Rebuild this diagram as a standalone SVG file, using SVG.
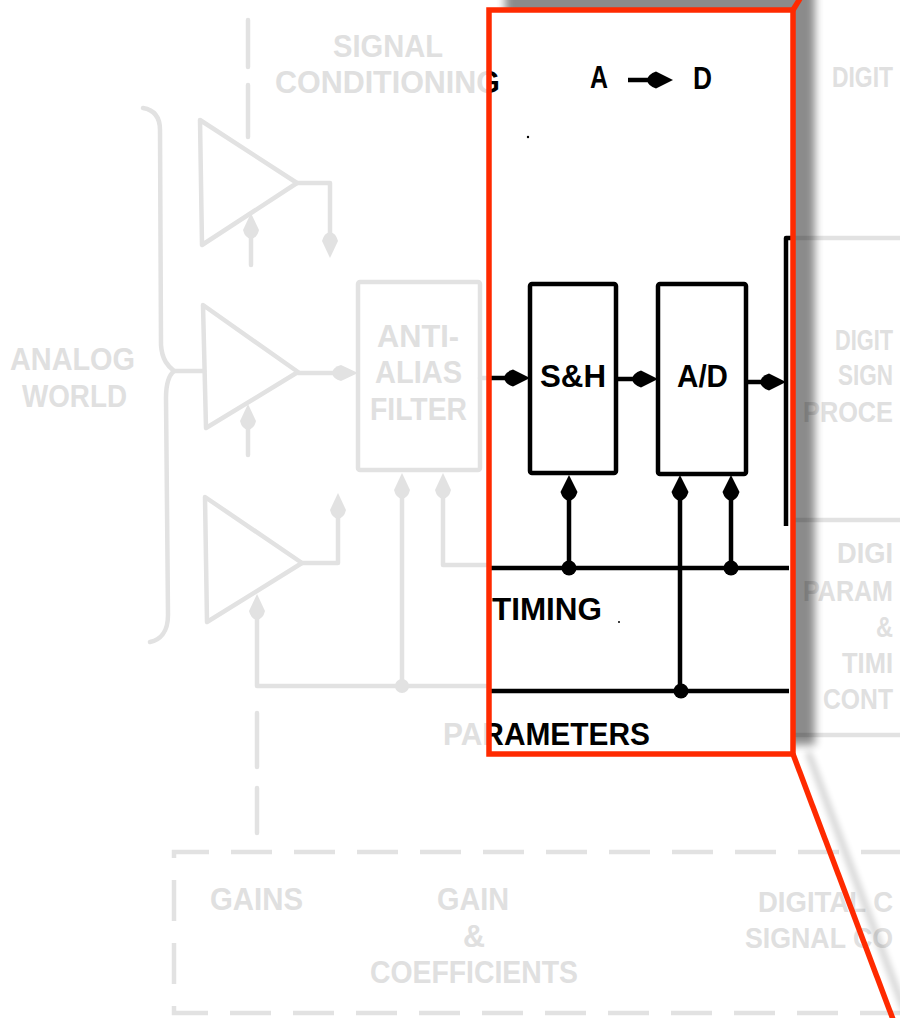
<svg xmlns="http://www.w3.org/2000/svg" width="900" height="1018" viewBox="0 0 900 1018">
<defs>
<style>
.g{fill:none;stroke:#e2e2e2;stroke-width:4.5;stroke-linecap:round;stroke-linejoin:round}
.gd{fill:none;stroke:#e2e2e2;stroke-width:4.5;stroke-dasharray:41 22}
.gt{fill:#e0e0e0;font-family:"Liberation Sans",Arial,sans-serif;font-weight:bold;font-size:31px}
.gs{font-size:29px}
.k{fill:none;stroke:#000;stroke-width:4.5;stroke-linejoin:round}
.kt{fill:#000;font-family:"Liberation Sans",Arial,sans-serif;font-weight:bold;font-size:31px}
.gdot{fill:#e2e2e2}
.kdot{fill:#000}
.mid{text-anchor:middle}
</style>
<marker id="ag" markerUnits="userSpaceOnUse" markerWidth="30" markerHeight="20" viewBox="-15 -10 30 20" refX="0" refY="0" orient="auto">
<path d="M13,0 L-4,-8 Q-12,-6 -13,0 Q-12,6 -4,8 Z" fill="#e2e2e2"/>
</marker>
<marker id="ak" markerUnits="userSpaceOnUse" markerWidth="30" markerHeight="20" viewBox="-15 -10 30 20" refX="0" refY="0" orient="auto">
<path d="M13,0 L-4,-8.5 Q-12,-6 -13,0 Q-12,6 -4,8.5 Z" fill="#000"/>
</marker>
<clipPath id="zoomclip"><rect x="491" y="12" width="300" height="740"/></clipPath>
<filter id="blur" x="-30%" y="-30%" width="160%" height="160%"><feGaussianBlur stdDeviation="4"/></filter>
<filter id="blur2" x="-30%" y="-30%" width="160%" height="160%"><feGaussianBlur stdDeviation="3"/></filter>
</defs>
<rect width="900" height="1018" fill="#fff"/>

<!-- faded background diagram -->
<g id="background-diagram">
  <g id="labels-gray">
    <text class="gt mid" x="388" y="57" textLength="110" lengthAdjust="spacingAndGlyphs">SIGNAL</text>
    <text class="gt" x="275" y="93" textLength="225" lengthAdjust="spacingAndGlyphs">CONDITIONING</text>
    <text class="gt" x="10" y="370" textLength="125" lengthAdjust="spacingAndGlyphs">ANALOG</text>
    <text class="gt" x="22" y="407" textLength="105" lengthAdjust="spacingAndGlyphs">WORLD</text>
    <text class="gt" x="443" y="745" textLength="207" lengthAdjust="spacingAndGlyphs">PARAMETERS</text>
  </g>
  <g id="brace">
    <path class="g" d="M143,108 C155,110 160,118 160,130 L161,345 C162,360 168,366 174,371 C168,376 166,385 166,398 L168,615 C168,632 160,640 150,642"/>
  </g>
  <g id="amp-top"><polygon class="g" points="200,120 297,183 202,245"/></g>
  <g id="amp-middle"><polygon class="g" points="203,305 298,372 206,428"/></g>
  <g id="amp-bottom"><polygon class="g" points="205,497 302,563 207,622"/></g>
  <g id="anti-alias-filter">
    <rect class="g" x="358" y="282" width="122" height="188" rx="2"/>
    <text class="gt" x="377" y="347" textLength="82" lengthAdjust="spacingAndGlyphs">ANTI-</text>
    <text class="gt" x="375" y="383" textLength="87" lengthAdjust="spacingAndGlyphs">ALIAS</text>
    <text class="gt" x="370" y="420" textLength="97" lengthAdjust="spacingAndGlyphs">FILTER</text>
  </g>
  <g id="right-column">
    <path class="g" d="M795,238 H902 M795,520 H902 M795,735 H902"/>
    <text class="gt gs" x="832" y="87" textLength="61" lengthAdjust="spacingAndGlyphs">DIGIT</text>
    <text class="gt gs" x="835" y="350" textLength="58" lengthAdjust="spacingAndGlyphs">DIGIT</text>
    <text class="gt gs" x="838" y="385" textLength="55" lengthAdjust="spacingAndGlyphs">SIGN</text>
    <text class="gt gs" x="803" y="422" textLength="90" lengthAdjust="spacingAndGlyphs">PROCE</text>
    <text class="gt gs" x="837" y="563" textLength="56" lengthAdjust="spacingAndGlyphs">DIGI</text>
    <text class="gt gs" x="803" y="601" textLength="90" lengthAdjust="spacingAndGlyphs">PARAM</text>
    <text class="gt gs" x="876" y="637" textLength="17" lengthAdjust="spacingAndGlyphs">&amp;</text>
    <text class="gt gs" x="842" y="673" textLength="51" lengthAdjust="spacingAndGlyphs">TIMI</text>
    <text class="gt gs" x="823" y="709" textLength="70" lengthAdjust="spacingAndGlyphs">CONT</text>
  </g>
  <g id="control-box">
    <path class="gd" d="M902,852 H174 V1013 H902"/>
    <text class="gt" x="210" y="910" textLength="93" lengthAdjust="spacingAndGlyphs">GAINS</text>
    <text class="gt" x="437" y="910" textLength="72" lengthAdjust="spacingAndGlyphs">GAIN</text>
    <text class="gt" x="463" y="947" textLength="22" lengthAdjust="spacingAndGlyphs">&amp;</text>
    <text class="gt" x="370" y="983" textLength="208" lengthAdjust="spacingAndGlyphs">COEFFICIENTS</text>
    <text class="gt gs" x="758" y="912" textLength="135" lengthAdjust="spacingAndGlyphs">DIGITAL C</text>
    <text class="gt gs" x="745" y="948" textLength="148" lengthAdjust="spacingAndGlyphs">SIGNAL CO</text>
  </g>
  <g id="connectors-gray">
    <path class="g" d="M248,20 V67 M248,85 V137"/>
    <path class="g" d="M257,713 V767 M257,788 V833"/>
    <path class="g" d="M297,183 H330 V245" marker-end="url(#ag)"/>
    <path class="g" d="M251,265 V226" marker-end="url(#ag)"/>
    <path class="g" d="M174,371 H204"/>
    <path class="g" d="M298,373 H345" marker-end="url(#ag)"/>
    <path class="g" d="M248,455 V417" marker-end="url(#ag)"/>
    <path class="g" d="M302,563 H338 V506" marker-end="url(#ag)"/>
    <path class="g" d="M492,686 H257 V607" marker-end="url(#ag)"/>
    <path class="g" d="M402,686 V486" marker-end="url(#ag)"/>
    <path class="g" d="M492,565 H443 V486" marker-end="url(#ag)"/>
    <path class="g" d="M480,378 H492"/>
    <circle class="gdot" cx="402" cy="686" r="7"/>
  </g>
</g>

<!-- shadow of the magnifier frame -->
<g id="frame-shadow">
  <rect x="505" y="-30" width="310" height="775" fill="#000" opacity="0.45" filter="url(#blur)"/>
  <path d="M808,752 L905,1012" stroke="#000" stroke-width="6" opacity="0.18" fill="none" filter="url(#blur2)"/>
</g>

<!-- magnified A to D section -->
<g id="zoom-window">
  <rect x="489" y="10" width="304" height="744" fill="#fff"/>
  <g id="zoom-labels" clip-path="url(#zoomclip)">
    <text class="kt" x="275" y="93" textLength="225" lengthAdjust="spacingAndGlyphs">CONDITIONING</text>
    <text class="kt" x="590" y="88" textLength="18" lengthAdjust="spacingAndGlyphs">A</text>
    <text class="kt" x="693" y="89" textLength="19" lengthAdjust="spacingAndGlyphs">D</text>
    <text class="kt" x="492" y="620" textLength="110" lengthAdjust="spacingAndGlyphs">TIMING</text>
    <text class="kt" x="443" y="745" textLength="207" lengthAdjust="spacingAndGlyphs">PARAMETERS</text>
    <circle class="kdot" cx="528" cy="137" r="1.2"/>
    <circle class="kdot" cx="619" cy="622" r="1"/>
  </g>
  <g id="sample-hold">
    <rect class="k" x="530" y="284" width="86" height="189" rx="2"/>
    <text class="kt" x="540" y="387" textLength="66" lengthAdjust="spacingAndGlyphs">S&amp;H</text>
  </g>
  <g id="ad-converter">
    <rect class="k" x="658" y="284" width="88" height="190" rx="2"/>
    <text class="kt" x="677" y="387" textLength="51" lengthAdjust="spacingAndGlyphs">A/D</text>
  </g>
  <g id="dsp-edge">
    <path class="k" d="M791,238 H786 V526"/>
  </g>
  <g id="connectors-black">
    <path class="k" d="M628,80 H660" marker-end="url(#ak)"/>
    <path class="k" d="M491,378 H517" marker-end="url(#ak)"/>
    <path class="k" d="M616,379 H645" marker-end="url(#ak)"/>
    <path class="k" d="M746,382 H773" marker-end="url(#ak)"/>
    <path class="k" d="M491,568 H789"/>
    <path class="k" d="M491,691 H789"/>
    <path class="k" d="M569,568 V488" marker-end="url(#ak)"/>
    <path class="k" d="M680,691 V488" marker-end="url(#ak)"/>
    <path class="k" d="M731,568 V488" marker-end="url(#ak)"/>
    <circle class="kdot" cx="569" cy="568" r="7.5"/>
    <circle class="kdot" cx="731" cy="568" r="7.5"/>
    <circle class="kdot" cx="681" cy="691" r="7.5"/>
  </g>
  <g id="zoom-frame" fill="none" stroke="#ff2a00" stroke-width="5.5">
    <rect x="489" y="10" width="304" height="744"/>
    <path d="M793,10 L801,-3"/>
    <path d="M793,754 L894,1022"/>
  </g>
</g>
</svg>
